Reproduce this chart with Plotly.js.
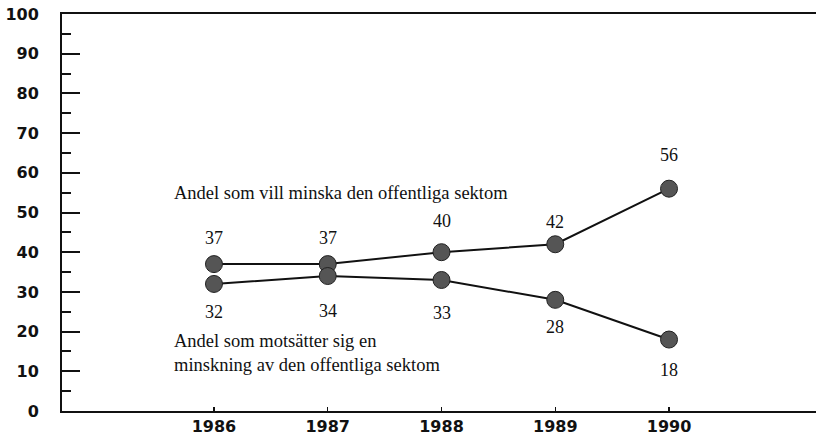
<!DOCTYPE html>
<html>
<head>
<meta charset="utf-8">
<script src="https://cdn.plot.ly/plotly-3.0.1.min.js"></script>
<style>html,body{margin:0;padding:0;background:#fff;}#chart{width:816px;height:439px;}</style>
</head>
<body>
<div id="chart"></div>
<script>
// Data
const years = [1986, 1987, 1988, 1989, 1990];
const villMinska = [37, 37, 40, 42, 56];
const motsatter = [32, 34, 33, 28, 18];
const yTickVals = [0, 10, 20, 30, 40, 50, 60, 70, 80, 90, 100];
const seriesLabel1 = "Andel som vill minska den offentliga sektom";
const seriesLabel2 = "Andel som motsätter sig en<br>minskning av den offentliga sektom";

// Label offsets (pixels, style only)
const shiftUp = [26, 26, 31, 22, 34];
const shiftDown = [28, 35, 33, 27, 30];

const serif = "Liberation Serif, Times New Roman, serif";
const sans = "DejaVu Sans, sans-serif";

const markerStyle = {size: 17, color: '#555555', line: {color: '#222', width: 1}};
const traces = [
  {x: years, y: villMinska, type: 'scatter', mode: 'lines+markers',
   line: {color: '#111', width: 2}, marker: markerStyle, hoverinfo: 'skip'},
  {x: years, y: motsatter, type: 'scatter', mode: 'lines+markers',
   line: {color: '#111', width: 2}, marker: markerStyle, hoverinfo: 'skip'}
];

const annotations = [];
years.forEach((yr, i) => {
  annotations.push({x: yr, y: villMinska[i], text: String(villMinska[i]), showarrow: false,
    yshift: shiftUp[i], font: {family: serif, size: 18, color: '#111'}});
  annotations.push({x: yr, y: motsatter[i], text: String(motsatter[i]), showarrow: false,
    yshift: -shiftDown[i], font: {family: serif, size: 18, color: '#111'}});
});
annotations.push({xref: 'paper', yref: 'paper', x: 0.1459, y: 0.549, xanchor: 'left', yanchor: 'middle',
  text: seriesLabel1, showarrow: false, align: 'left', font: {family: serif, size: 18.5, color: '#111'}});
annotations.push({xref: 'paper', yref: 'paper', x: 0.1459, y: 0.146, xanchor: 'left', yanchor: 'middle',
  text: seriesLabel2, showarrow: false, align: 'left', font: {family: serif, size: 18.5, color: '#111'}});

const layout = {
  width: 816, height: 439,
  margin: {l: 62, r: 0, t: 14, b: 28, pad: 0},
  paper_bgcolor: '#fff', plot_bgcolor: '#fff',
  showlegend: false,
  xaxis: {
    range: [1984.664, 1991.292], tickvals: years, ticktext: years.map(String),
    showgrid: false, zeroline: false, showline: true, mirror: true,
    linecolor: '#111', linewidth: 2,
    ticks: 'inside', ticklen: 4, tickwidth: 1.5, tickcolor: '#111',
    ticklabelstandoff: 0,
    tickfont: {family: sans, size: 16, color: '#111', weight: 'bold'}
  },
  yaxis: {
    range: [0, 100], tickvals: yTickVals,
    showgrid: false, zeroline: false, showline: true, mirror: false,
    linecolor: '#111', linewidth: 2,
    ticks: 'inside', ticklen: 18, tickwidth: 2, tickcolor: '#111',
    minor: {dtick: 5, ticks: 'inside', ticklen: 9, tickwidth: 2, tickcolor: '#111', showgrid: false},
    ticklabelstandoff: 18,
    tickfont: {family: sans, size: 16, color: '#111', weight: 'bold'}
  },
  annotations: annotations
};

Plotly.newPlot('chart', traces, layout, {displayModeBar: false, staticPlot: true});
</script>
</body>
</html>
